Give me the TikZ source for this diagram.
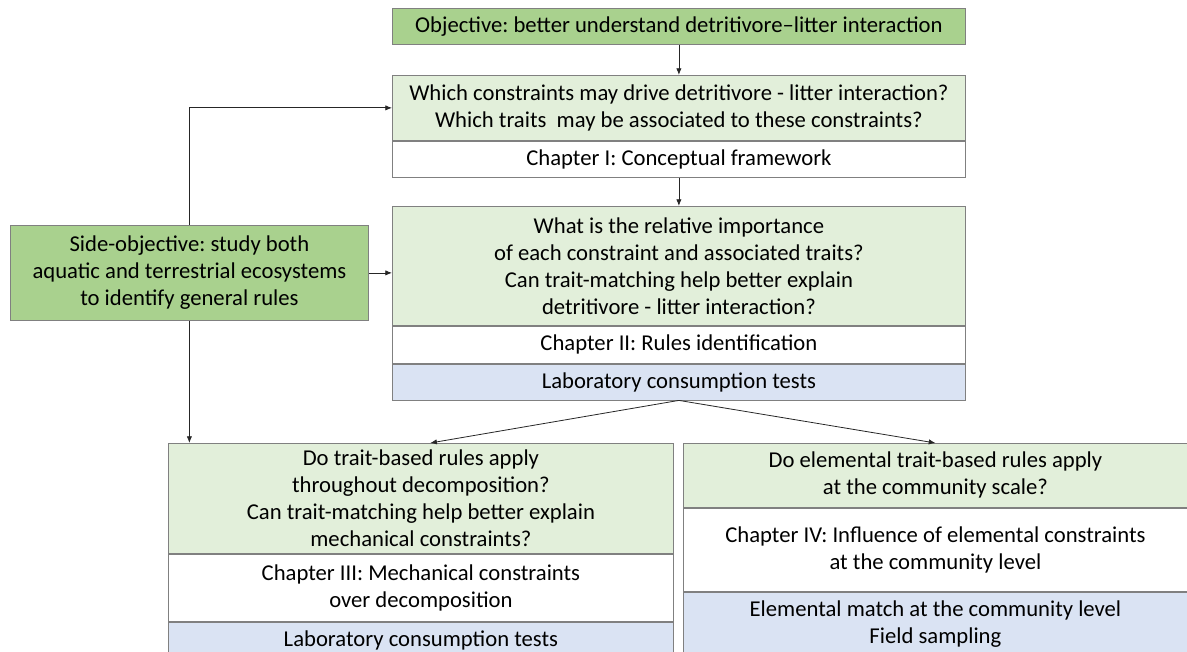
\documentclass[tikz,border=0pt]{standalone}
\usepackage{fontspec}
\setmainfont{Carlito}
\frenchspacing
\usetikzlibrary{positioning,arrows.meta}
\definecolor{objgreen}{RGB}{169,209,142}
\definecolor{qgreen}{RGB}{226,239,218}
\definecolor{methblue}{RGB}{218,227,243}
\definecolor{boxline}{RGB}{128,128,128}

\tikzset{
  seg/.style={draw=boxline, line width=0.6pt, align=center, inner sep=0pt,
    font=\fontsize{17}{20.25}\selectfont},
  objbox/.style={seg, fill=objgreen},
  qbox/.style={seg, fill=qgreen},
  chapbox/.style={seg, fill=white},
  methbox/.style={seg, fill=methblue},
  flow/.style={-{Latex[length=5pt,width=4pt]}, line width=0.6pt, draw=black!85}
}

\begin{document}
\begin{tikzpicture}[x=0.75pt,y=0.75pt,yscale=-1,xscale=1]
\useasboundingbox (0,0) rectangle (1187,652);

% Objective
\node [objbox, anchor=north west, minimum width=429.75pt, minimum height=27pt] (obj) at (392,8)
  {Objective: better understand detritivore--litter interaction};

% Chapter I
\node [qbox, anchor=north west, minimum width=429.75pt, minimum height=48.75pt] (qone) at (392,75)
  {Which constraints may drive detritivore - litter interaction?\\ Which traits\ \ may be associated to these constraints?};
\node [chapbox, below=0pt of qone, minimum width=429.75pt, minimum height=27pt] (chone)
  {Chapter I: Conceptual framework};

% Chapter II
\node [qbox, anchor=north west, minimum width=429.75pt, minimum height=89.25pt] (qtwo) at (392,206)
  {What is the relative importance\\ of each constraint and associated traits?\\ Can trait-matching help better explain\\ detritivore - litter interaction?};
\node [chapbox, below=0pt of qtwo, minimum width=429.75pt, minimum height=27.75pt] (chtwo)
  {Chapter II: Rules identification};
\node [methbox, below=0pt of chtwo, minimum width=429.75pt, minimum height=27pt] (mtwo)
  {Laboratory consumption tests};

% Side objective
\node [objbox, anchor=north west, minimum width=268.5pt, minimum height=71.25pt] (side) at (10,225)
  {Side-objective: study both\\ aquatic and terrestrial ecosystems\\ to identify general rules};

% Chapter III
\node [qbox, anchor=north west, minimum width=378.75pt, minimum height=82.5pt] (qthree) at (168,443)
  {Do trait-based rules apply\\ throughout decomposition?\\ Can trait-matching help better explain\\ mechanical constraints?};
\node [chapbox, below=0pt of qthree, minimum width=378.75pt, minimum height=50.25pt] (chthree)
  {Chapter III: Mechanical constraints\\ over decomposition};
\node [methbox, below=0pt of chthree, minimum width=378.75pt, minimum height=27pt] (mthree)
  {Laboratory consumption tests};

% Chapter IV
\node [qbox, anchor=north west, minimum width=378pt, minimum height=48pt] (qfour) at (683,443)
  {Do elemental trait-based rules apply\\ at the community scale?};
\node [chapbox, below=0pt of qfour, minimum width=378pt, minimum height=62.25pt] (chfour)
  {Chapter IV: Influence of elemental constraints\\ at the community level};
\node [methbox, below=0pt of chfour, minimum width=378pt, minimum height=48.75pt] (mfour)
  {Elemental match at the community level\\ Field sampling};

% Connectors
\draw [flow] (obj.south) -- (qone.north);
\draw [flow] (chone.south) -- (qtwo.north);
\draw [flow] (side.north) -- (side.north |- qone.west) -- (qone.west);
\draw [flow] (side.east) -- (side.east -| qtwo.west);
\draw [flow] (side.south) -- (side.south |- qthree.north);
\draw [flow] (mtwo.south) -- ([xshift=7pt]qthree.north);
\draw [flow] (mtwo.south) -- (qfour.north);

\end{tikzpicture}
\end{document}
